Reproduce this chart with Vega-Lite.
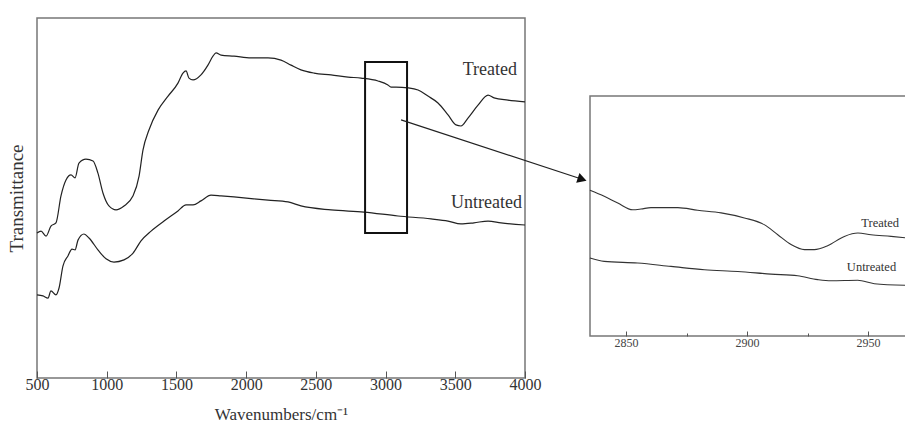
{
  "$schema": "https://vega.github.io/schema/vega-lite/v6.json",
  "padding": {"left": 6, "top": 15, "right": 0, "bottom": 0},
  "background": "white",
  "config": {
    "font": "Liberation Serif",
    "view": {"stroke": "#777", "strokeWidth": 1.5},
    "axis": {"labelFont": "Liberation Serif", "titleFont": "Liberation Serif", "labelColor": "#333", "titleColor": "#333", "titleFontWeight": "normal", "grid": false, "domain": false, "tickColor": "#555", "labelFlush": false, "labelOverlap": false}
  },
  "datasets": {
    "main": [
      {"wn": 500, "t": 40.3, "s": "Treated"}, {"wn": 529, "t": 40.8, "s": "Treated"}, {"wn": 565, "t": 39.4, "s": "Treated"}, {"wn": 600, "t": 42.2, "s": "Treated"}, {"wn": 636, "t": 43.1, "s": "Treated"}, {"wn": 672, "t": 50.6, "s": "Treated"}, {"wn": 708, "t": 55.0, "s": "Treated"}, {"wn": 744, "t": 56.4, "s": "Treated"}, {"wn": 773, "t": 55.6, "s": "Treated"}, {"wn": 801, "t": 59.7, "s": "Treated"}, {"wn": 851, "t": 60.8, "s": "Treated"}, {"wn": 902, "t": 60.3, "s": "Treated"}, {"wn": 937, "t": 56.9, "s": "Treated"}, {"wn": 973, "t": 51.4, "s": "Treated"}, {"wn": 1016, "t": 47.8, "s": "Treated"}, {"wn": 1067, "t": 46.7, "s": "Treated"}, {"wn": 1124, "t": 47.8, "s": "Treated"}, {"wn": 1189, "t": 50.6, "s": "Treated"}, {"wn": 1232, "t": 56.1, "s": "Treated"}, {"wn": 1260, "t": 63.3, "s": "Treated"}, {"wn": 1303, "t": 68.9, "s": "Treated"}, {"wn": 1368, "t": 74.4, "s": "Treated"}, {"wn": 1440, "t": 78.3, "s": "Treated"}, {"wn": 1511, "t": 81.9, "s": "Treated"}, {"wn": 1547, "t": 84.7, "s": "Treated"}, {"wn": 1569, "t": 85.3, "s": "Treated"}, {"wn": 1590, "t": 83.3, "s": "Treated"}, {"wn": 1619, "t": 82.8, "s": "Treated"}, {"wn": 1676, "t": 84.2, "s": "Treated"}, {"wn": 1726, "t": 86.9, "s": "Treated"}, {"wn": 1762, "t": 89.4, "s": "Treated"}, {"wn": 1784, "t": 90.3, "s": "Treated"}, {"wn": 1820, "t": 89.7, "s": "Treated"}, {"wn": 1913, "t": 89.4, "s": "Treated"}, {"wn": 2035, "t": 88.9, "s": "Treated"}, {"wn": 2157, "t": 88.9, "s": "Treated"}, {"wn": 2250, "t": 88.3, "s": "Treated"}, {"wn": 2322, "t": 86.9, "s": "Treated"}, {"wn": 2393, "t": 85.6, "s": "Treated"}, {"wn": 2487, "t": 84.7, "s": "Treated"}, {"wn": 2609, "t": 84.2, "s": "Treated"}, {"wn": 2731, "t": 83.6, "s": "Treated"}, {"wn": 2824, "t": 83.3, "s": "Treated"}, {"wn": 2946, "t": 82.5, "s": "Treated"}, {"wn": 3017, "t": 81.4, "s": "Treated"}, {"wn": 3039, "t": 80.8, "s": "Treated"}, {"wn": 3075, "t": 80.8, "s": "Treated"}, {"wn": 3161, "t": 80.6, "s": "Treated"}, {"wn": 3233, "t": 80.0, "s": "Treated"}, {"wn": 3304, "t": 78.3, "s": "Treated"}, {"wn": 3376, "t": 76.4, "s": "Treated"}, {"wn": 3448, "t": 73.1, "s": "Treated"}, {"wn": 3505, "t": 70.3, "s": "Treated"}, {"wn": 3541, "t": 70.0, "s": "Treated"}, {"wn": 3591, "t": 72.2, "s": "Treated"}, {"wn": 3663, "t": 75.8, "s": "Treated"}, {"wn": 3735, "t": 78.6, "s": "Treated"}, {"wn": 3778, "t": 77.8, "s": "Treated"}, {"wn": 3878, "t": 77.2, "s": "Treated"}, {"wn": 4000, "t": 76.7, "s": "Treated"},
      {"wn": 500, "t": 23.1, "s": "Untreated"}, {"wn": 543, "t": 22.8, "s": "Untreated"}, {"wn": 579, "t": 22.2, "s": "Untreated"}, {"wn": 600, "t": 24.2, "s": "Untreated"}, {"wn": 636, "t": 23.1, "s": "Untreated"}, {"wn": 658, "t": 25.0, "s": "Untreated"}, {"wn": 686, "t": 31.1, "s": "Untreated"}, {"wn": 722, "t": 33.9, "s": "Untreated"}, {"wn": 751, "t": 35.8, "s": "Untreated"}, {"wn": 773, "t": 35.6, "s": "Untreated"}, {"wn": 794, "t": 38.3, "s": "Untreated"}, {"wn": 837, "t": 40.0, "s": "Untreated"}, {"wn": 873, "t": 38.9, "s": "Untreated"}, {"wn": 937, "t": 35.6, "s": "Untreated"}, {"wn": 995, "t": 33.1, "s": "Untreated"}, {"wn": 1052, "t": 32.2, "s": "Untreated"}, {"wn": 1124, "t": 32.8, "s": "Untreated"}, {"wn": 1189, "t": 34.7, "s": "Untreated"}, {"wn": 1246, "t": 38.1, "s": "Untreated"}, {"wn": 1318, "t": 40.8, "s": "Untreated"}, {"wn": 1411, "t": 43.6, "s": "Untreated"}, {"wn": 1511, "t": 46.4, "s": "Untreated"}, {"wn": 1569, "t": 48.1, "s": "Untreated"}, {"wn": 1619, "t": 48.1, "s": "Untreated"}, {"wn": 1676, "t": 49.2, "s": "Untreated"}, {"wn": 1748, "t": 50.8, "s": "Untreated"}, {"wn": 1820, "t": 50.6, "s": "Untreated"}, {"wn": 1913, "t": 50.3, "s": "Untreated"}, {"wn": 2157, "t": 49.4, "s": "Untreated"}, {"wn": 2300, "t": 48.9, "s": "Untreated"}, {"wn": 2393, "t": 47.8, "s": "Untreated"}, {"wn": 2609, "t": 46.7, "s": "Untreated"}, {"wn": 2845, "t": 46.1, "s": "Untreated"}, {"wn": 3089, "t": 45.0, "s": "Untreated"}, {"wn": 3326, "t": 44.2, "s": "Untreated"}, {"wn": 3448, "t": 43.6, "s": "Untreated"}, {"wn": 3541, "t": 42.8, "s": "Untreated"}, {"wn": 3634, "t": 43.1, "s": "Untreated"}, {"wn": 3735, "t": 43.6, "s": "Untreated"}, {"wn": 3828, "t": 43.1, "s": "Untreated"}, {"wn": 4000, "t": 42.5, "s": "Untreated"}
    ],
    "inset": [
      {"wn": 2835.1, "t": 60.7, "s": "Treated"}, {"wn": 2841.0, "t": 58.2, "s": "Treated"}, {"wn": 2846.6, "t": 55.4, "s": "Treated"}, {"wn": 2852.8, "t": 52.6, "s": "Treated"}, {"wn": 2856.2, "t": 52.9, "s": "Treated"}, {"wn": 2860.3, "t": 53.5, "s": "Treated"}, {"wn": 2871.4, "t": 53.5, "s": "Treated"}, {"wn": 2879.6, "t": 52.4, "s": "Treated"}, {"wn": 2889.3, "t": 51.3, "s": "Treated"}, {"wn": 2898.9, "t": 49.2, "s": "Treated"}, {"wn": 2907.1, "t": 46.4, "s": "Treated"}, {"wn": 2912.7, "t": 42.2, "s": "Treated"}, {"wn": 2918.2, "t": 38.1, "s": "Treated"}, {"wn": 2923.7, "t": 36.0, "s": "Treated"}, {"wn": 2927.8, "t": 36.0, "s": "Treated"}, {"wn": 2933.3, "t": 37.6, "s": "Treated"}, {"wn": 2940.2, "t": 41.5, "s": "Treated"}, {"wn": 2945.8, "t": 42.9, "s": "Treated"}, {"wn": 2951.2, "t": 42.2, "s": "Treated"}, {"wn": 2959.5, "t": 41.5, "s": "Treated"}, {"wn": 2966.5, "t": 40.8, "s": "Treated"},
      {"wn": 2835.1, "t": 32.5, "s": "Untreated"}, {"wn": 2841.0, "t": 31.1, "s": "Untreated"}, {"wn": 2854.8, "t": 30.4, "s": "Untreated"}, {"wn": 2868.6, "t": 29.0, "s": "Untreated"}, {"wn": 2882.4, "t": 27.6, "s": "Untreated"}, {"wn": 2896.2, "t": 26.9, "s": "Untreated"}, {"wn": 2909.9, "t": 25.8, "s": "Untreated"}, {"wn": 2920.9, "t": 25.1, "s": "Untreated"}, {"wn": 2929.2, "t": 23.5, "s": "Untreated"}, {"wn": 2934.7, "t": 23.0, "s": "Untreated"}, {"wn": 2945.7, "t": 23.2, "s": "Untreated"}, {"wn": 2952.6, "t": 21.8, "s": "Untreated"}, {"wn": 2966.5, "t": 21.1, "s": "Untreated"}
    ]
  },
  "spacing": 65,
  "bounds": "flush",
  "hconcat": [
    {
      "width": 488,
      "height": 360,
      "layer": [
        {
          "data": {"name": "main"},
          "mark": {"type": "line", "color": "#222", "strokeWidth": 1.2, "interpolate": "monotone"},
          "encoding": {
            "x": {"field": "wn", "type": "quantitative", "scale": {"domain": [500, 4000], "nice": false, "zero": false},
              "axis": {"title": "Wavenumbers/cm⁻¹", "values": [500, 750, 1000, 1250, 1500, 1750, 2000, 2250, 2500, 2750, 3000, 3250, 3500, 3750, 4000], "format": "d", "labelExpr": "datum.value % 500 === 0 ? datum.label : ''", "labelFontSize": 16, "titleFontSize": 17, "tickSize": {"condition": {"test": "datum.value % 500 === 0", "value": -7}, "value": -4}, "labelPadding": 5, "titlePadding": 14}},
            "y": {"field": "t", "type": "quantitative", "scale": {"domain": [0, 100], "nice": false},
              "axis": {"title": "Transmittance", "labels": false, "ticks": false, "titleFontSize": 19, "titlePadding": 11}},
            "detail": {"field": "s"}
          }
        },
        {
          "data": {"values": [{"a": 2853, "b": 3154, "c": 40.3, "d": 87.8}]},
          "mark": {"type": "rect", "fillOpacity": 0, "stroke": "#111", "strokeWidth": 2},
          "encoding": {"x": {"field": "a", "type": "quantitative"}, "x2": {"field": "b"}, "y": {"field": "c", "type": "quantitative"}, "y2": {"field": "d"}}
        },
        {
          "data": {"values": [{"a": 3111, "b": 4410, "c": 71.7, "d": 55.2}]},
          "mark": {"type": "rule", "color": "#222", "strokeWidth": 1.2},
          "encoding": {"x": {"field": "a", "type": "quantitative"}, "x2": {"field": "b"}, "y": {"field": "c", "type": "quantitative"}, "y2": {"field": "d"}}
        },
        {
          "data": {"values": [{"a": 4410, "c": 55.2}]},
          "mark": {"type": "point", "shape": "triangle-right", "filled": true, "color": "#111", "size": 110, "angle": 18, "opacity": 1},
          "encoding": {"x": {"field": "a", "type": "quantitative"}, "y": {"field": "c", "type": "quantitative"}}
        },
        {
          "data": {"values": [{"a": 3943, "c": 85.6, "label": "Treated"}, {"a": 3979, "c": 48.6, "label": "Untreated"}]},
          "mark": {"type": "text", "align": "right", "baseline": "middle", "fontSize": 18, "color": "#333"},
          "encoding": {"x": {"field": "a", "type": "quantitative"}, "y": {"field": "c", "type": "quantitative"}, "text": {"field": "label"}}
        }
      ]
    },
    {
      "spacing": 77,
      "bounds": "flush",
      "vconcat": [
        {
          "width": 318,
          "height": 1,
          "view": {"stroke": null},
          "data": {"values": [{"a": 1}]},
          "mark": {"type": "point", "opacity": 0},
          "encoding": {}
        },
        {
          "width": 318,
          "height": 240,
          "layer": [
            {
              "data": {"name": "inset"},
              "mark": {"type": "line", "color": "#333", "strokeWidth": 1.1, "interpolate": "monotone"},
              "encoding": {
                "x": {"field": "wn", "type": "quantitative", "scale": {"domain": [2835.12, 2966.5], "nice": false, "zero": false},
                  "axis": {"title": null, "values": [2850, 2875, 2900, 2925, 2950], "format": "d", "labelExpr": "datum.value % 50 === 0 ? datum.label : ''", "labelFontSize": 12, "labelColor": "#444", "tickSize": {"condition": {"test": "datum.value % 50 === 0", "value": -5}, "value": -3}, "labelPadding": 6}},
                "y": {"field": "t", "type": "quantitative", "scale": {"domain": [0, 100], "nice": false}, "axis": null},
                "detail": {"field": "s"}
              }
            },
            {
              "data": {"values": [{"a": 2962.8, "c": 47, "label": "Treated"}, {"a": 2961.6, "c": 28.75, "label": "Untreated"}]},
              "mark": {"type": "text", "align": "right", "baseline": "middle", "fontSize": 12.5, "color": "#333"},
              "encoding": {"x": {"field": "a", "type": "quantitative"}, "y": {"field": "c", "type": "quantitative"}, "text": {"field": "label"}}
            }
          ]
        }
      ]
    }
  ]
}
